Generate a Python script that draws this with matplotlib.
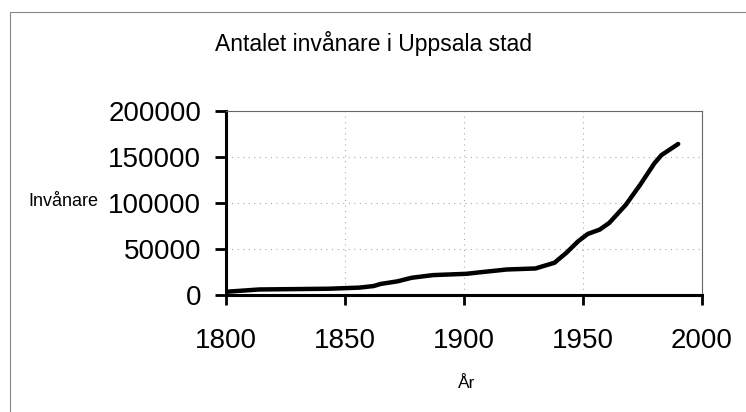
import matplotlib
matplotlib.use("Agg")
import matplotlib.pyplot as plt
from matplotlib.patches import Rectangle

# ─── Data ───────────────────────────────────────────────────────────
years = [1800, 1814, 1843, 1856, 1862, 1865, 1872, 1878, 1887, 1901,
         1908, 1918, 1930, 1938, 1943, 1948, 1952, 1957, 1961, 1968,
         1974, 1980, 1983, 1990]
population = [3500, 6000, 6800, 8000, 9700, 12000, 14800, 18700, 21600, 23000,
              25000, 27700, 28800, 35000, 45800, 58400, 66300, 71000, 78200, 98000,
              119600, 143000, 152000, 164000]

x_ticks = [1800, 1850, 1900, 1950, 2000]
y_ticks = [0, 50000, 100000, 150000, 200000]

title = "Antalet invånare i Uppsala stad"
x_label = "År"
y_label = "Invånare"

plt.rcParams["font.family"] = ["Liberation Sans", "DejaVu Sans"]

fig = plt.figure(figsize=(7.46, 4.12), dpi=100)
ax = fig.add_axes([0.303, 0.284, 0.638, 0.447])

# outer chart frame
fig.patches.append(Rectangle((0.014, -0.05), 1.2, 1.021, transform=fig.transFigure,
                             fill=False, edgecolor="#888888", linewidth=0.8))

ax.plot(years, population, color="black", linewidth=3.2, solid_capstyle="round")

ax.set_xlim(1800, 2000)
ax.set_ylim(0, 200000)
ax.set_xticks(x_ticks)
ax.set_yticks(y_ticks)
ax.set_xticklabels([str(t) for t in x_ticks])
ax.set_yticklabels([str(t) for t in y_ticks])
ax.tick_params(axis="both", labelsize=20, direction="out", length=8, width=2,
               color="black")
ax.tick_params(axis="y", pad=10)
ax.tick_params(axis="x", length=7, pad=17)

ax.grid(True, color="#aaaaaa", linestyle=(0, (1, 4)), linewidth=0.8)
for side in ["left", "bottom"]:
    ax.spines[side].set_linewidth(2.2)
for side in ["top", "right"]:
    ax.spines[side].set_linewidth(0.8)
    ax.spines[side].set_color("#666666")

fig.text(0.501, 0.894, title, ha="center", va="center", fontsize=16.5)
fig.text(0.038, 0.51, y_label, ha="left", va="center", fontsize=13)
fig.text(0.625, 0.068, x_label, ha="center", va="center", fontsize=12.5)

fig.savefig("out.png", dpi=100)
